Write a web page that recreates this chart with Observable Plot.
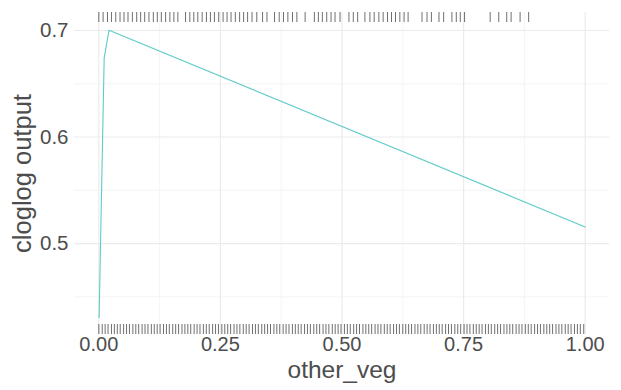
<!DOCTYPE html>
<html>
<head>
<meta charset="utf-8">
<script src="https://cdn.jsdelivr.net/npm/d3@7"></script>
<script src="https://cdn.jsdelivr.net/npm/@observablehq/plot@0.6"></script>
<style>
  html, body { margin: 0; padding: 0; background: #fff; }
  #chart svg { display: block; }
</style>
</head>
<body>
<div id="chart"></div>
<script>
// Response curve
const curveX = [0.0006, 0.011, 0.021, 1.0];
const curveY = [0.4305, 0.674, 0.7003, 0.5155];

// Presence rug (top)
const presenceX = [0.000,0.0088,0.0178,0.026,0.0348,0.0436,0.0518,0.060,0.069,0.0779,0.086,0.0943,0.1031,0.1121,0.1203,0.1285,0.1373,0.1461,0.1543,0.1625,0.1783,0.1871,0.1953,0.2035,0.2125,0.2213,0.2295,0.2377,0.2465,0.2555,0.2637,0.2719,0.2807,0.2895,0.2977,0.3059,0.3150,0.3248,0.3367,0.3457,0.3613,0.3709,0.3797,0.3887,0.3982,0.4072,0.4242,0.4432,0.4514,0.4596,0.4686,0.4775,0.4857,0.4959,0.5143,0.5232,0.5322,0.5471,0.5574,0.5662,0.5758,0.5846,0.5936,0.6018,0.6100,0.6189,0.6277,0.6359,0.6645,0.6748,0.6838,0.6994,0.7090,0.7260,0.7350,0.7432,0.7520,0.8047,0.8223,0.8387,0.8477,0.8662,0.8838];

// Background rug (bottom)
const backgroundX = [0.000,0.007,0.013,0.019,0.026,0.032,0.038,0.044,0.051,0.057,0.063,0.070,0.076,0.082,0.089,0.095,0.101,0.108,0.114,0.120,0.126,0.133,0.139,0.145,0.152,0.158,0.164,0.171,0.177,0.183,0.189,0.196,0.202,0.208,0.215,0.221,0.227,0.234,0.240,0.246,0.253,0.259,0.265,0.271,0.278,0.284,0.290,0.297,0.303,0.309,0.316,0.322,0.328,0.335,0.341,0.347,0.353,0.360,0.366,0.372,0.379,0.385,0.391,0.398,0.404,0.410,0.416,0.423,0.429,0.435,0.442,0.448,0.454,0.461,0.467,0.473,0.480,0.486,0.492,0.498,0.505,0.511,0.517,0.524,0.530,0.536,0.543,0.549,0.555,0.561,0.568,0.574,0.580,0.587,0.593,0.599,0.606,0.612,0.618,0.625,0.631,0.637,0.643,0.650,0.656,0.662,0.669,0.675,0.681,0.688,0.694,0.700,0.706,0.713,0.719,0.725,0.732,0.738,0.744,0.751,0.757,0.763,0.770,0.776,0.782,0.788,0.795,0.801,0.807,0.814,0.820,0.826,0.833,0.839,0.845,0.851,0.858,0.864,0.870,0.877,0.883,0.889,0.896,0.902,0.908,0.915,0.921,0.927,0.933,0.940,0.946,0.952,0.959,0.965,0.971,0.978,0.984,0.990,0.997];

// Ticks and grid
const xTicks = [0, 0.25, 0.5, 0.75, 1.0];
const xTickLabels = ["0.00", "0.25", "0.50", "0.75", "1.00"];
const xMinor = [0.125, 0.375, 0.625, 0.875];
const yTicks = [0.5, 0.6, 0.7];
const yTickLabels = ["0.5", "0.6", "0.7"];
const yMinor = [0.45, 0.55, 0.65];
const xTitle = "other_veg";
const yTitle = "cloglog output";

const curve = curveX.map((x, i) => ({x, y: curveY[i]}));

const W = 621, H = 390;
const mTop = 12, mBottom = 56, mLeft = 74, mRight = 12;
const frameH = H - mTop - mBottom;
const rugLen = 10;
const font = "'Liberation Sans', Arial, Helvetica, sans-serif";

const chart = Plot.plot({
  width: W,
  height: H,
  marginTop: mTop,
  marginBottom: mBottom,
  marginLeft: mLeft,
  marginRight: mRight,
  style: {fontFamily: font, background: "#ffffff"},
  x: {domain: [-0.05, 1.05]},
  y: {domain: [0.4146, 0.7169]},
  marks: [
    Plot.ruleX(xMinor, {stroke: "#f4f4f4", strokeWidth: 1}),
    Plot.ruleY(yMinor, {stroke: "#f4f4f4", strokeWidth: 1}),
    Plot.ruleX(xTicks, {stroke: "#ebebeb", strokeWidth: 1.2}),
    Plot.ruleY(yTicks, {stroke: "#ebebeb", strokeWidth: 1.2}),
    Plot.ruleX(presenceX, {x: d => d, stroke: "#222", strokeOpacity: 0.65, strokeWidth: 1, insetBottom: frameH - rugLen}),
    Plot.ruleX(backgroundX, {x: d => d, stroke: "#222", strokeOpacity: 0.65, strokeWidth: 1, insetTop: frameH - rugLen}),
    Plot.line(curve, {x: "x", y: "y", stroke: "#5ECBC8", strokeWidth: 1.1}),
    Plot.axisX({ticks: xTicks, tickFormat: (d, i) => xTickLabels[i], tickSize: 0, tickPadding: 2, fontSize: 20, color: "#4d4d4d", label: null}),
    Plot.axisY({ticks: yTicks, tickFormat: (d, i) => yTickLabels[i], tickSize: 0, tickPadding: 6, fontSize: 20.5, color: "#4d4d4d", label: null}),
    Plot.text([xTitle], {text: d => d, frameAnchor: "bottom", dy: 43, fontSize: 24.5, fill: "#4d4d4d"}),
    Plot.text([yTitle], {text: d => d, frameAnchor: "left", textAnchor: "middle", rotate: -90, dx: -52, fontSize: 25.5, fill: "#4d4d4d"})
  ]
});
document.getElementById("chart").appendChild(chart);
</script>
</body>
</html>
